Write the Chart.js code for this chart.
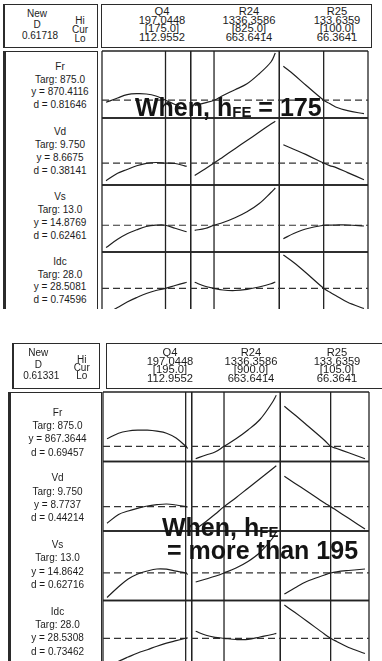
<!DOCTYPE html>
<html>
<head>
<meta charset="utf-8">
<title>Response optimizer</title>
<script src="https://cdn.jsdelivr.net/npm/chart.js@4.4.1/dist/chart.umd.min.js"></script>
<style>
  html, body { margin: 0; padding: 0; background: #fff; }
  body { position: relative; width: 382px; height: 661px; overflow: hidden;
         font-family: "Liberation Sans", Arial, sans-serif; color: #1c1c1c; }
  .fig { position: absolute; left: 0; top: 0; width: 382px; overflow: hidden; }
  .box { position: absolute; box-sizing: border-box; border: 1px solid #2b2b2b; }
  .lbl { position: absolute; font-size: 10px; line-height: 10px; white-space: nowrap;
         transform: translate(-50%, -50%); }
  .lbl.wide { transform: translate(-50%, -50%) scaleX(1.12); }
  .clip { position: absolute; overflow: hidden; }
  .plot { position: relative; }
  .note { position: absolute; font-weight: bold; font-size: 25px; line-height: 25px;
          white-space: nowrap; color: #141414; }
  .note span { font-size: 15px; vertical-align: -1px; }
</style>
</head>
<body>
<script>
// factors and responses of the optimizer
const factors = ['Q4', 'R24', 'R25'];
const factorHi = [197.0448, 1336.3586, 133.6359];
const factorLo = [112.9552, 663.6414, 66.3641];
const responses = ['Fr', 'Vd', 'Vs', 'Idc'];
const targets = ['875.0', '9.750', '13.0', '28.0'];

// factor levels where each profile is sampled
const q4Levels  = [112.9552, 125, 135, 145, 155, 165, 175, 185, 195, 197.0448];
const r24Levels = [663.6414, 750, 825, 900, 1000, 1100, 1200, 1300, 1336.3586];
const r25Levels = [66.3641, 75, 85, 100, 105, 110, 120, 133.6359];

// setting A: hFE = 175
const curA = [175.0, 825.0, 100.0];
const yA = [870.4116, 8.6675, 14.8769, 28.5081];
const dA = [0.81646, 0.38141, 0.62461, 0.74596];
const compA = 0.61718;
const frA_Q4   = [864.1, 877.0, 886.9, 889.9, 889.0, 883.0, 870.4116, 857.5, 844.6, 842.5];
const frA_R24  = [854.5, 862.6, 870.4116, 884.5, 901.9, 919.6, 949.0, 985.0, 1012.0];
const frA_R25  = [972.1, 947.5, 916.0, 870.4116, 860.2, 850.0, 838.9, 829.9];
const vdA_Q4   = [7.785, 8.155, 8.345, 8.53, 8.655, 8.695, 8.6675, 8.645, 8.53, 8.505];
const vdA_R24  = [8.045, 8.37, 8.6675, 8.975, 9.385, 9.795, 10.205, 10.62, 10.76];
const vdA_R25  = [9.585, 9.36, 9.1, 8.6675, 8.54, 8.45, 8.19, 7.835];
const vsA_Q4   = [12.65, 13.47, 14.02, 14.42, 14.75, 14.88, 14.8769, 14.57, 14.28, 14.22];
const vsA_R24  = [14.37, 14.55, 14.8769, 15.15, 15.63, 16.23, 17.02, 18.15, 18.6];
const vsA_R25  = [13.53, 14.05, 14.5, 14.8769, 14.89, 14.9, 14.9, 14.8];
const idcA_Q4  = [25.94, 26.59, 27.14, 27.59, 27.99, 28.29, 28.5081, 28.79, 29.06, 29.11];
const idcA_R24 = [29.11, 28.71, 28.5081, 28.34, 28.29, 28.41, 28.64, 28.96, 29.14];
const idcA_R25 = [31.84, 31.09, 30.09, 28.5081, 28.14, 27.79, 27.11, 26.49];
const yMinA = [817, 7.57, 12.2, 25.44];
const yMaxA = [1018, 10.92, 18.9, 32.14];

// setting B: hFE more than 195
const curB = [195.0, 900.0, 105.0];
const yB = [867.3644, 8.7737, 14.8642, 28.5308];
const dB = [0.69457, 0.44214, 0.62716, 0.73462];
const compB = 0.61331;
const frB_Q4   = [889.9, 906.7, 913.3, 915.7, 915.7, 912.7, 906.7, 892.3, 867.3644, 860.8];
const frB_R24  = [830.2, 841.3, 850.3, 867.3644, 889.9, 916.3, 947.8, 997.3, 1020.4];
const frB_R25  = [987.4, 961.9, 931.3, 884.8, 867.3644, 860.8, 847.9, 830.2];
const vdB_Q4   = [7.94, 8.38, 8.555, 8.69, 8.805, 8.87, 8.905, 8.855, 8.7737, 8.755];
const vdB_R24  = [7.655, 8.03, 8.39, 8.7737, 9.22, 9.695, 10.165, 10.645, 10.82];
const vdB_R25  = [10.29, 9.945, 9.555, 8.955, 8.7737, 8.58, 8.19, 7.655];
const vsB_Q4   = [12.41, 13.48, 14.26, 14.76, 15.06, 15.26, 15.24, 15.04, 14.8642, 14.71];
const vsB_R24  = [13.96, 14.26, 14.53, 14.8642, 15.36, 16.01, 16.91, 18.26, 19.01];
const vsB_R25  = [12.76, 13.36, 14.01, 14.66, 14.8642, 14.98, 15.11, 15.26];
const idcB_Q4  = [25.66, 26.24, 26.66, 27.06, 27.39, 27.74, 28.04, 28.29, 28.5308, 28.58];
const idcB_R24 = [29.23, 28.83, 28.63, 28.5308, 28.41, 28.41, 28.66, 28.91, 29.03];
const idcB_R25 = [31.86, 31.13, 30.26, 28.94, 28.5308, 28.21, 27.61, 27.01];
const yMinB = [821.8, 7.555, 12.11, 25.36];
const yMaxB = [1030.3, 11.03, 19.06, 32.31];

// panel frames, current factor settings and dashed response lines
const frameLines = {
  id: 'frameLines',
  beforeDatasetsDraw(chart, args, opts) {
    const ctx = chart.ctx;
    const { left, right, top, bottom } = chart.chartArea;
    const seg = (x1, y1, x2, y2) => {
      ctx.beginPath(); ctx.moveTo(x1, y1); ctx.lineTo(x2, y2); ctx.stroke();
    };
    ctx.save();
    ctx.strokeStyle = '#222';
    ctx.lineWidth = 1.3;
    responses.forEach((r, ri) => {
      const s = chart.scales['y' + ri];
      seg(left, s.top, right, s.top);
      seg(left, s.bottom, right, s.bottom);
    });
    factors.forEach((f, fi) => {
      const s = chart.scales['x' + fi];
      seg(s.left, top, s.left, bottom);
      seg(s.right, top, s.right, bottom);
      const xc = s.getPixelForValue(opts.current[fi]);
      seg(xc, top, xc, bottom);
    });
    ctx.setLineDash([7, 4]);
    ctx.strokeStyle = '#333';
    ctx.lineWidth = 1.2;
    responses.forEach((r, ri) => {
      const y = chart.scales['y' + ri].getPixelForValue(opts.response[ri]);
      seg(left, y, right, y);
    });
    ctx.restore();
  }
};

function drawPlot(canvas, series, cur, yNow, yMin, yMax) {
  const levels = [q4Levels, r24Levels, r25Levels];
  const datasets = [];
  series.forEach((row, ri) => row.forEach((vals, fi) => {
    datasets.push({
      data: vals.map((v, i) => ({ x: levels[fi][i], y: v })),
      xAxisID: 'x' + fi,
      yAxisID: 'y' + ri,
      borderColor: '#1f1f1f',
      borderWidth: 1.2,
      pointRadius: 0,
      tension: 0.35,
      fill: false
    });
  }));

  const scales = {};
  factors.forEach((f, fi) => {
    const pad = (factorHi[fi] - factorLo[fi]) * 0.05;
    scales['x' + fi] = {
      type: 'linear', position: 'bottom', display: false,
      stack: 'factors', weight: fi + 1,
      min: factorLo[fi] - pad, max: factorHi[fi] + pad
    };
  });
  responses.forEach((r, ri) => {
    scales['y' + ri] = {
      type: 'linear', position: 'left', display: false,
      stack: 'responses', weight: responses.length - ri,
      min: yMin[ri], max: yMax[ri]
    };
  });

  return new Chart(canvas, {
    type: 'line',
    data: { datasets },
    options: {
      responsive: true,
      maintainAspectRatio: false,
      animation: false,
      events: [],
      layout: { padding: 1 },
      scales,
      plugins: {
        legend: { display: false },
        tooltip: { enabled: false },
        frameLines: { current: cur, response: yNow }
      }
    },
    plugins: [frameLines]
  });
}

function el(parent, cls, css) {
  const e = document.createElement('div');
  e.className = cls;
  Object.assign(e.style, css);
  parent.appendChild(e);
  return e;
}

function label(parent, text, x, y, cls) {
  const e = el(parent, 'lbl' + (cls ? ' ' + cls : ''), { left: x + 'px', top: y + 'px' });
  e.textContent = text;
}

function box(parent, r, leftBorder) {
  el(parent, 'box', {
    left: r[0] + 'px', top: r[1] + 'px', width: r[2] + 'px', height: r[3] + 'px',
    borderLeftWidth: leftBorder + 'px'
  });
}

function buildFigure(lay, comp, cur, yNow, d, series, yMin, yMax) {
  const fig = el(document.body, 'fig', { height: lay.height + 'px' });

  box(fig, lay.headL, 2);
  box(fig, lay.headR, 1);
  box(fig, lay.bodyL, 3);

  label(fig, 'New', lay.dX, lay.dY[0]);
  label(fig, 'D', lay.dX, lay.dY[1]);
  label(fig, comp.toFixed(5), lay.dX + 3, lay.dY[2]);
  ['Hi', 'Cur', 'Lo'].forEach((t, i) => label(fig, t, lay.hlcX, lay.hlcY[i]));

  factors.forEach((f, fi) => {
    const col = [f, factorHi[fi].toFixed(4), '[' + cur[fi].toFixed(1) + ']', factorLo[fi].toFixed(4)];
    col.forEach((t, i) => label(fig, t, lay.facX[fi], lay.facY[i], 'wide'));
  });

  responses.forEach((r, ri) => {
    const lines = [r, 'Targ: ' + targets[ri], 'y = ' + yNow[ri].toFixed(4), 'd = ' + d[ri].toFixed(5)];
    lines.forEach((t, i) => label(fig, t, lay.respX, lay.respY[ri] + i * lay.respStep));
  });

  const p = lay.plot;
  const clip = el(fig, 'clip', { left: p[0] + 'px', top: p[1] + 'px', width: p[2] + 'px', height: p[3] + 'px' });
  const holder = el(clip, 'plot', { width: p[2] + 'px', height: p[4] + 'px' });
  const canvas = document.createElement('canvas');
  holder.appendChild(canvas);
  drawPlot(canvas, series, cur, yNow, yMin, yMax);

  lay.notes.forEach(n => {
    const e = el(fig, 'note', { left: n.x + 'px', top: n.y + 'px' });
    e.innerHTML = n.html;
  });
}

buildFigure({
  height: 309,
  headL: [3, 4, 95, 44], headR: [101, 4, 271, 44], bodyL: [3, 51, 95, 300],
  plot: [101, 50, 268, 259, 270],
  dX: 37, dY: [13.7, 24.5, 35.8], hlcX: 80, hlcY: [21.2, 30, 39.3],
  facX: [162.3, 249.3, 336.7], facY: [12, 20.7, 29.3, 38],
  respX: 60, respY: [66.7, 132.3, 197.3, 261.7], respStep: 12.8,
  notes: [{ x: 135, y: 95, html: 'When, h<span>FE</span> = 175' }]
}, compA, curA, yA, dA,
  [[frA_Q4, frA_R24, frA_R25], [vdA_Q4, vdA_R24, vdA_R25],
   [vsA_Q4, vsA_R24, vsA_R25], [idcA_Q4, idcA_R24, idcA_R25]],
  yMinA, yMaxA);

buildFigure({
  height: 661,
  headL: [12, 343, 88, 46], headR: [106, 343, 290, 46], bodyL: [8, 392, 94, 300],
  plot: [102, 391, 268, 280, 280],
  dX: 38.3, dY: [353.3, 365, 375.5], hlcX: 81.7, hlcY: [360, 368, 375.5],
  facX: [170, 250.7, 336.7], facY: [352.7, 361.5, 370, 378.5],
  respX: 57.5, respY: [412.7, 478.3, 545, 611.7], respStep: 13.3,
  notes: [
    { x: 162, y: 515, html: 'When, h<span>FE</span>' },
    { x: 167, y: 537.5, html: '= more than 195' }
  ]
}, compB, curB, yB, dB,
  [[frB_Q4, frB_R24, frB_R25], [vdB_Q4, vdB_R24, vdB_R25],
   [vsB_Q4, vsB_R24, vsB_R25], [idcB_Q4, idcB_R24, idcB_R25]],
  yMinB, yMaxB);
</script>
</body>
</html>
